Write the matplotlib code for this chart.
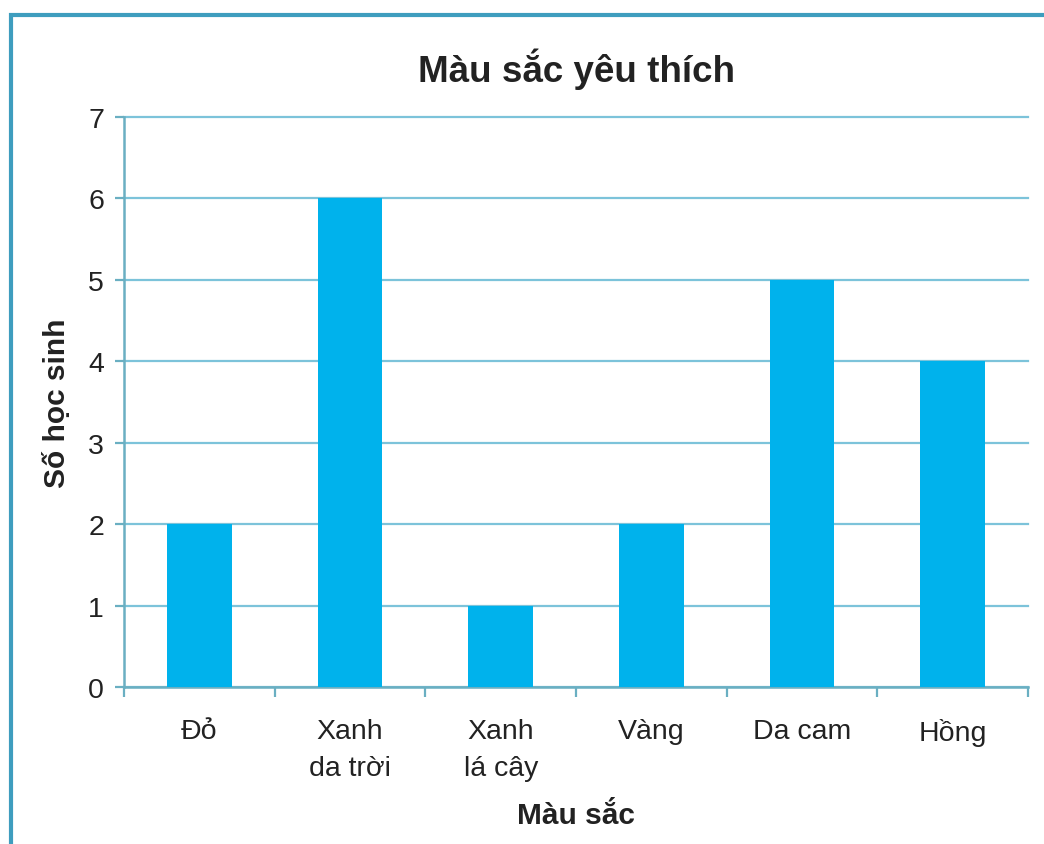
import matplotlib.pyplot as plt
from matplotlib.patches import Rectangle

plt.rcParams['font.family'] = ['Liberation Sans', 'DejaVu Sans']

# Du lieu
mau = ['Đỏ', 'Xanh\nda trời', 'Xanh\nlá cây', 'Vàng', 'Da cam', 'Hồng']
so_hoc_sinh = [2, 6, 1, 2, 5, 4]

fig = plt.figure(figsize=(10.44, 8.45), dpi=100)
ax = fig.add_axes([0.1188, 0.1858, 0.8659, 0.6746])

# khung ngoai
fig.patches.append(Rectangle((11 / 1044, -0.05), 1.1, 1 - 16 / 845 + 0.05,
                             transform=fig.transFigure, fill=False,
                             edgecolor='#3E9DBE', linewidth=3))

x = range(len(mau))
ax.bar(x, so_hoc_sinh, width=0.43, color='#00B2EC', zorder=3)

ax.set_xlim(-0.5, len(mau) - 0.5)
ax.set_ylim(0, 7)
ax.set_yticks(range(0, 8))
ax.yaxis.grid(True, color='#7CC3DA', linewidth=1.6, zorder=0)
for g in ax.get_ygridlines():
    g.set_clip_on(False)

ax.set_xticks(x)
ax.set_xticklabels(mau, fontsize=20.5, color='#222222', linespacing=1.55,
                   va='top')
ax.set_xticks([i - 0.5 for i in range(len(mau) + 1)], minor=True)
ax.tick_params(axis='x', which='major', length=0, pad=22)
ax.tick_params(axis='x', which='minor', length=7, width=1.6, color='#6AAFC2')
ax.tick_params(axis='y', labelsize=20.5, length=6.5, width=1.6, color='#6AAFC2',
               labelcolor='#222222', pad=8)

for s in ['top', 'right']:
    ax.spines[s].set_visible(False)
for s in ['left', 'bottom']:
    ax.spines[s].set_color('#6AAFC2')
    ax.spines[s].set_linewidth(1.8)

ax.set_title('Màu sắc yêu thích', fontsize=26.5, fontweight='bold',
             color='#222222', pad=26)
ax.set_ylabel('Số học sinh', fontsize=21.5, fontweight='bold', color='#222222',
              labelpad=12)
ax.set_xlabel('Màu sắc', fontsize=21.5, fontweight='bold', color='#222222',
              labelpad=15)

plt.savefig('out.png', dpi=100)
